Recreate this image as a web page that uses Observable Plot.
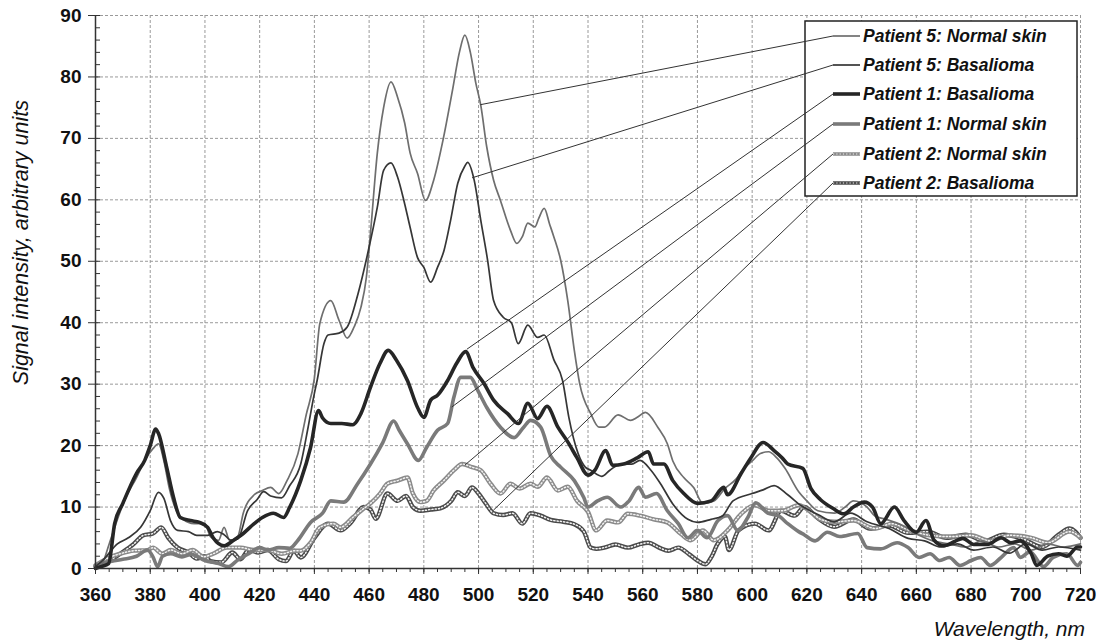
<!DOCTYPE html>
<html><head><meta charset="utf-8">
<script src="https://cdn.jsdelivr.net/npm/d3@7"></script>
<script src="https://cdn.jsdelivr.net/npm/@observablehq/plot@0.6"></script>
<style>
body{margin:0;background:#fff;}
#chart{position:relative;width:1104px;height:643px;}
</style></head><body><div id="chart"></div>
<script>
// ---- data (wavelength nm, signal intensity) ----
const seriesNames = ["Patient 5: Normal skin","Patient 5: Basalioma","Patient 1: Basalioma","Patient 1: Normal skin","Patient 2: Normal skin","Patient 2: Basalioma"];

const p5Normal = [[360,0.3],[362,0.5],[365,4],[368,8],[371,11.5],[375,14.8],[378,17.6],[381,19.5],[383,20.3],[385,17.5],[387,13],[390,9],[392,8],[396,7.3],[400,7.3],[402,5.2],[405,4.6],[407,6.7],[409,4.6],[412,5.2],[414,9],[418,12],[421,12.7],[424,13.2],[427,12.2],[430,14.3],[434,18.7],[437,25],[440,31],[442,39.9],[446,43.6],[449,40.4],[452,37.5],[454.5,39.3],[457,42.5],[459,47.4],[460.5,54.6],[463,67.6],[465.3,75],[468,79.2],[470.4,76.7],[473,72.5],[475,67.6],[477.7,64.3],[480.6,59.9],[483.6,63.2],[487,69.7],[490.5,77.9],[493,84],[495,86.8],[497,84],[499,79],[500.8,75.4],[503,68.6],[505.5,63.2],[508,59.9],[511.7,55],[514,52.9],[516,54],[518,56.2],[520.6,55.6],[522,57],[524,58.6],[526,56],[527.5,54],[530,50.2],[532.6,43.6],[535,35.5],[537,30],[541,25.2],[544,23],[546,23],[551,25],[555.6,24.1],[558,24.6],[561,25.4],[565.5,23],[569,20.3],[571,17.5],[575,14.8],[578.6,13.2],[582,10.6],[586,11],[590,13],[594,14.5],[597,16.3],[600,17.5],[603,18.7],[606,19],[609,18],[612,16.3],[617,12.5],[620,11],[624,9.4],[630,9],[634,10],[637,11],[642,10],[645,8.5],[649,8],[655,7],[661,5.4],[666,4.5],[672,4],[678,3.5],[684,4.5],[690,3.5],[696,4],[702,3],[708,4],[714,3.5],[720,4]];

const p5Basalioma = [[360,0.3],[363,1.5],[368,4],[372,5],[376.5,6.7],[380,9.4],[383,12.4],[385,11.4],[387.4,7.8],[390,6.2],[394,6],[397,5.4],[401,5.4],[404.5,6],[407,5.5],[409.6,4.6],[412,4.8],[415.6,9.4],[419,11.2],[421.5,12.5],[424,11.8],[428,11.5],[431,13.5],[435,17],[437.5,22.5],[440,28.5],[441,30.6],[443.5,36.6],[445,38],[449,38.3],[452,39.3],[456,44.8],[459.5,51.3],[463,58.8],[465.3,64.8],[468,66],[470.4,63.7],[472.7,59.9],[475,55.5],[477.7,50.6],[480,49],[482.5,46.6],[485,49],[487.4,51.8],[489.8,56.7],[492.4,62.7],[495,65.5],[496,66.1],[498.4,63.2],[500.8,56.7],[503.3,50.2],[505.5,43.6],[509,40.9],[512,40],[514.5,36.6],[518,39.6],[521.6,37.6],[524,38],[527.5,34],[530.7,30.6],[533,24.6],[536.4,18.7],[539,16.5],[541,16],[545,15],[548,16],[552,17],[556,17],[559,17.6],[563,16],[566.5,13.8],[571,10.5],[576.5,8],[580,7.5],[585,8],[589,8.5],[593,11],[600,12.2],[604,12.8],[608,13.5],[613,12],[618,10.2],[624,8.8],[630,7.6],[636,9],[642,7.6],[650,6.5],[657,4.9],[663,4.5],[669,3.5],[675,4],[681,3],[688,3.5],[694,2.5],[700,4],[706,3],[712,3.5],[720,3]];

const p1Basalioma = [[360,0],[362,0.3],[364.8,0.8],[367,7.3],[370,10.6],[375,15.5],[378,17.6],[380,20],[382,22.7],[383,22],[386,16.5],[388.5,11.6],[391,8.3],[394.7,7.8],[398,7.5],[401,6.7],[403,5],[407,3.7],[410.5,4.6],[414,5.7],[418,7.3],[421,8.3],[425,9],[428.7,8.3],[431,10],[435,14.3],[438.6,19.7],[441.5,25.7],[443,24.5],[446,23.6],[450,23.6],[454,23.4],[457,25.2],[460.5,29.5],[464,33.4],[467,35.5],[470,33.9],[474,30.6],[477.7,26.2],[480,24.6],[482.5,27.4],[485,28.2],[488.7,30.6],[492,33.4],[495.3,35.3],[498,32.7],[502,30.1],[505.5,27.4],[510.6,25.2],[514.6,23.6],[518,26.9],[521.6,24.4],[525,26.4],[529,23],[532.6,20.6],[536,18],[540,15.2],[542.5,16],[546.5,19.2],[549,16.8],[553,17],[558,18],[562,19],[564,17],[567.7,17],[571,14.3],[575,12.2],[580,10.6],[585,11],[589.6,13.2],[591,12],[596,15.5],[599.5,18],[604,20.5],[608,19.2],[611,18],[613,17],[618.5,16.3],[621.5,13],[625,11.2],[629.5,9.8],[633.5,8.9],[637,10],[641,10.8],[644,10],[647,7.3],[652,10],[655.5,7.8],[660,5.9],[663.5,7.8],[666.5,4.6],[670,3.7],[674,4.4],[677,4.9],[681,3.9],[686,3.9],[691,5],[694.5,4.2],[698,4.5],[702,2.4],[704,0.5],[708,2],[712,2.4],[715,2],[719,3.5],[720,3.5]];

const p1Normal = [[360,0.5],[362,0.8],[366,1.2],[370,1.5],[375,2],[379,3],[381,1.9],[382.7,0.3],[384.5,2],[387.5,2.4],[391.6,1.9],[395,2.3],[400,1.3],[405,0.8],[408.5,0.3],[412,1.4],[416,2.4],[420,3.4],[423,3],[427,3.4],[431,3.3],[434,4.6],[438.6,7.5],[443,9],[446,11],[450.7,10.8],[455.8,13.8],[460.5,17],[465,20.5],[469,24],[471,22.5],[474,20.3],[478,17.6],[481,19.7],[485,22.5],[488.7,23.6],[491,27.9],[493.5,31.1],[497,31.1],[499.7,29],[503,26.2],[508,23],[513,21.3],[516.5,23],[519,24.1],[522.7,23],[526.4,18.3],[530,16.5],[535,14.3],[538.5,11.5],[540,10],[543.5,11],[547,11.6],[552,10],[555,11],[558.5,13.2],[561,11.6],[565,12.2],[569,9.4],[573,7.3],[576.5,5],[580,6.2],[583.5,5],[587.5,7.8],[591,8.6],[594.7,6.2],[598.4,8.3],[601.3,10.7],[605.7,9],[609.5,8.6],[613,7.3],[617,6],[619,5.5],[623,4.5],[627.5,5.9],[632,5.2],[638.6,5.7],[642,3.4],[647,3.2],[653,4.2],[657,3.4],[661,1.8],[665,2.4],[668.6,1.3],[672,1.8],[676,0.5],[680,1.3],[683.5,1.8],[687,0.5],[691,1.8],[695.6,3.4],[698,1.8],[701.5,2.7],[706.5,0.3],[710,1.8],[715,2.4],[719,0.5],[720,1]];

const p2Normal = [[360,0.5],[361,0.8],[365,1.8],[369,2.4],[374,2.9],[379,3],[381,3.4],[384.4,2.4],[387.5,3],[391.6,2.4],[395.5,3],[399.5,1.9],[403,2.4],[408,3.4],[413,3.4],[418,3],[423,3],[428,2.4],[433,2.9],[435,2.9],[438.6,4.2],[442,6.7],[447,7.3],[449.5,6.7],[454,8.3],[457.6,9.6],[460.5,10.6],[464,12.2],[466.7,13.8],[470.4,14.3],[474,14.8],[476,12.2],[478.8,10.8],[481,11],[483.6,12.7],[487.3,14.3],[491,16],[494,17],[497.6,16.5],[500.8,16],[504.4,13.8],[508,12.2],[511.7,13.8],[515,13],[519,13.8],[521.6,13.3],[525,14.8],[529,12.7],[532.6,13.3],[536,11],[540,9.2],[543,6.2],[547,7.8],[551,7.5],[554.5,8.9],[559,8.6],[564,8],[569,7.5],[574,5.6],[577.5,4.6],[582,6.2],[586,4.6],[591,6.2],[596,8.9],[601,10.3],[606,9.4],[611,9.4],[617,10.3],[622,9],[625,8],[630,7.6],[637,7.8],[645,6.5],[651,7.3],[657,6.3],[665,5.4],[672,5.2],[680,5.4],[687,4.5],[694,5.4],[702,5],[708,4.2],[716,6],[720,5]];

const p2Basalioma = [[360,0.3],[362,0.5],[366,1.5],[369,2.4],[374,4],[377.5,5.4],[381,5.7],[384,6.7],[386.6,5],[390,3.4],[394,2.6],[397,1.6],[400,2],[402,1.2],[406,1],[410,2.6],[413,1.5],[416,3],[419.5,2.6],[423,3],[427,1.5],[429.6,1.2],[432.5,2.9],[435,1.8],[440,5],[445,7.3],[449.6,6.2],[453,7.3],[458,10],[460.5,9.6],[462.4,8.1],[466.7,12.2],[470.4,11],[473.5,11.8],[476,10],[478.8,9.4],[482.5,9.6],[486,9.8],[490,11],[492.4,12.4],[495,11.8],[497.6,13.2],[500,12.2],[502.6,10.6],[505.5,9],[509,8.7],[512.4,9],[516,7.3],[519,9],[522.7,8.6],[526.4,7.9],[531,7.6],[535,7.2],[538.5,6],[541,3.4],[543,3.2],[546,3.4],[550,3.9],[554.6,3.4],[558.5,3.9],[562,4.2],[566,3.4],[569.4,2.9],[573,3.4],[577,2.3],[580,1.3],[583,0.7],[585,1.8],[587.5,4.1],[590,5.2],[591.5,3],[595,6.2],[601,7.3],[606,6.2],[610.6,9.4],[615.5,8.6],[619,10],[624,8.2],[630,6.8],[637,8],[643,6.5],[650,7],[657,5.8],[664,6],[671,5],[678,5.5],[685,4.5],[692,5.5],[699,4.8],[706,3.5],[712,5.5],[716,6.5],[720,5]];

// points on the curves where the legend leader lines end (same order as seriesNames)
const leaderTargets = [[500.8,75.4],[497.8,63.5],[495.9,35.6],[490.4,26.2],[495.3,16.8],[505.6,9.4]];

const xTicks = d3.range(360, 721, 20);
const xMinorTicks = d3.range(360, 721, 5);
const yTicks = d3.range(0, 91, 10);
const yMinorTicks = d3.range(0, 91, 2);

// ---- styling per series ----
const styles = {
  "Patient 5: Normal skin": {stroke:"#6e6e6e", width:1.7, pattern:false},
  "Patient 5: Basalioma":   {stroke:"#363636", width:1.7, pattern:false},
  "Patient 1: Basalioma":   {stroke:"#262626", width:3.6, pattern:false},
  "Patient 1: Normal skin": {stroke:"#7a7a7a", width:3.6, pattern:false},
  "Patient 2: Normal skin": {stroke:"#8a8a8a", width:4.4, pattern:true},
  "Patient 2: Basalioma":   {stroke:"#4a4a4a", width:4.4, pattern:true}
};
const seriesData = [p5Normal, p5Basalioma, p1Basalioma, p1Normal, p2Normal, p2Basalioma];
const rows = seriesNames.map((name, i) => seriesData[i].map(([wl, v]) => ({series: name, wl, v})));
const drawOrder = [5, 4, 3, 0, 1, 2];

const lineMarks = [];
for (const i of drawOrder) {
  const s = styles[seriesNames[i]];
  lineMarks.push(Plot.line(rows[i], {x:"wl", y:"v", stroke:s.stroke, strokeWidth:s.width, curve:"monotone-x", strokeLinejoin:"round"}));
  if (s.pattern) lineMarks.push(Plot.line(rows[i], {x:"wl", y:"v", stroke:"#f2f2f2", strokeWidth:1.5, strokeDasharray:"1.2,2.1", curve:"monotone-x"}));
}

const tickFont = {fontSize:19, fontWeight:"bold"};
const chart = Plot.plot({
  width:1104, height:643,
  marginLeft:95, marginRight:24, marginTop:15, marginBottom:75,
  style:{fontFamily:"'Liberation Sans', Arial, sans-serif", background:"white", color:"#111"},
  x:{domain:[360,720], label:null},
  y:{domain:[0,90], label:null},
  marks:[
    Plot.gridX(xTicks, {stroke:"#9a9a9a", strokeOpacity:1, strokeDasharray:"3,2"}),
    Plot.gridY(yTicks, {stroke:"#9a9a9a", strokeOpacity:1, strokeDasharray:"3,2"}),
    ...lineMarks,
    Plot.ruleX([360], {stroke:"#333", strokeWidth:1.5}),
    Plot.ruleY([0], {stroke:"#333", strokeWidth:1.5}),
    Plot.axisX({ticks:xTicks, tickSize:6, tickPadding:13, label:null, ...tickFont, stroke:"#333"}),
    Plot.axisX({ticks:xMinorTicks, tickSize:4, tickFormat:() => "", label:null, stroke:"#333"}),
    Plot.axisY({ticks:yTicks, tickSize:7, tickPadding:7, label:null, ...tickFont, stroke:"#333"}),
    Plot.axisY({ticks:yMinorTicks, tickSize:5, dx:5, tickFormat:() => "", label:null, stroke:"#333"})
  ]
});
document.getElementById("chart").appendChild(chart);

// ---- axis titles, legend and leader lines ----
const sx = chart.scale("x"), sy = chart.scale("y");
const svg = d3.select(chart);
svg.append("text").attr("transform", "translate(28,100) rotate(-90)")
  .attr("text-anchor", "end").attr("font-style", "italic").attr("font-size", 21.5)
  .attr("fill", "#111").text("Signal intensity, arbitrary units");
svg.append("text").attr("x", 1085).attr("y", 636).attr("text-anchor", "end")
  .attr("font-style", "italic").attr("font-size", 21).attr("fill", "#111").text("Wavelength, nm");

const box = {x:805, y:21, w:272, h:175};
const entryY = [36, 65, 94, 124, 154, 183];
const lg = svg.append("g");
lg.append("rect").attr("x", box.x).attr("y", box.y).attr("width", box.w).attr("height", box.h)
  .attr("fill", "white").attr("stroke", "#222").attr("stroke-width", 1.5);
seriesNames.forEach((name, i) => {
  const s = styles[name];
  const yy = entryY[i];
  lg.append("line").attr("x1", 833).attr("x2", 860).attr("y1", yy).attr("y2", yy)
    .attr("stroke", s.stroke).attr("stroke-width", s.pattern ? 3.5 : s.width);
  if (s.pattern) lg.append("line").attr("x1", 833).attr("x2", 860).attr("y1", yy).attr("y2", yy)
    .attr("stroke", "#f2f2f2").attr("stroke-width", 1.2).attr("stroke-dasharray", "1.2,2.1");
  lg.append("text").attr("x", 863).attr("y", yy + 6).attr("text-anchor", "start").attr("font-size", 17.5)
    .attr("font-weight", "bold").attr("font-style", "italic").attr("fill", "#111").text(name);
  const [tw, tv] = leaderTargets[i];
  lg.append("line").attr("x1", 833).attr("y1", yy).attr("x2", sx.apply(tw)).attr("y2", sy.apply(tv))
    .attr("stroke", "#333").attr("stroke-width", 1);
});
</script></body></html>
